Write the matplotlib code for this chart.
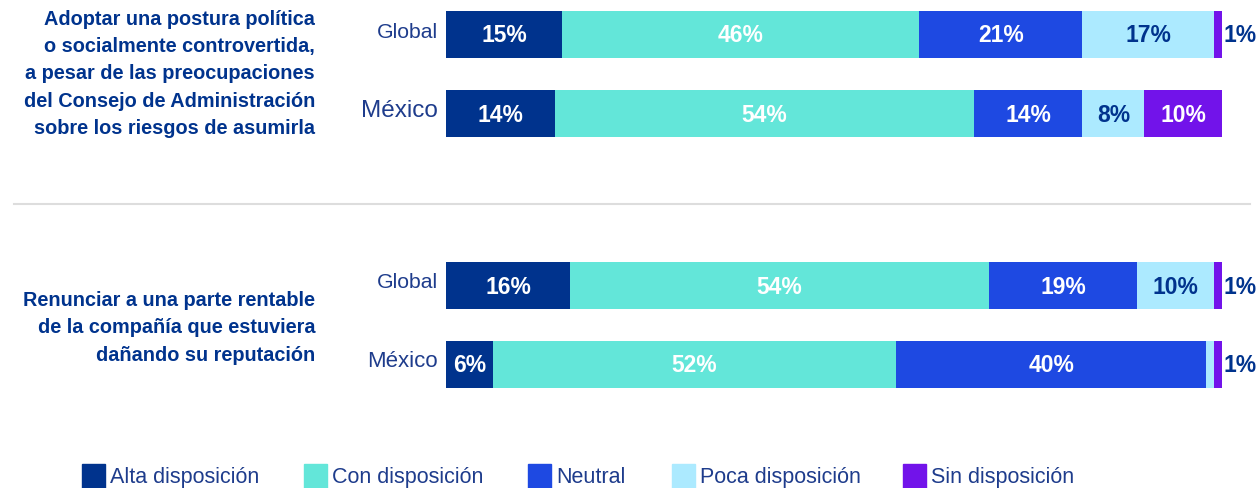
import numpy as np
import matplotlib.pyplot as plt
from matplotlib.patches import Rectangle

plt.rcParams['font.family'] = ['Liberation Sans', 'DejaVu Sans']

W, H = 1256, 489

categories = ['Alta disposición', 'Con disposición', 'Neutral', 'Poca disposición', 'Sin disposición']
colors = ['#00338D', '#63E6D9', '#1E49E2', '#ACEAFF', '#7213EA']
label_colors = ['white', 'white', 'white', '#00338D', 'white']

rows = ['Global', 'México', 'Global', 'México']
groups = ['Adoptar una postura política\no socialmente controvertida,\na pesar de las preocupaciones\ndel Consejo de Administración\nsobre los riesgos de asumirla',
          'Renunciar a una parte rentable\nde la compañía que estuviera\ndañando su reputación']

alta = [15, 14, 16, 6]
con = [46, 54, 54, 52]
neutral = [21, 14, 19, 40]
poca = [17, 8, 10, 1]
sin = [1, 10, 1, 1]
# which segments get a printed label (poca in last row is unlabeled)
show_poca = [True, True, True, False]

data = np.array([alta, con, neutral, poca, sin], dtype=float)

fig = plt.figure(figsize=(W/100, H/100), dpi=100)
ax = fig.add_axes([446/W, 0, (1222-446)/W, 1])
ax.set_xlim(0, 100)
ax.set_ylim(H, 0)
ax.axis('off')

ycent = [35, 114, 286, 365]
bar_h = 47
navy = '#00338D'
rowcol = '#1E3C8C'

left = np.zeros(len(rows))
for k in range(5):
    ax.barh(ycent, data[k], left=left, height=bar_h, color=colors[k], linewidth=0)
    for i in range(len(rows)):
        v = data[k][i]
        if k == 3 and not show_poca[i]:
            continue
        if v <= 2:
            ax.text(100.2, ycent[i] + 1, f'{int(v)}%', ha='left', va='center',
                    fontsize=16.5, fontweight='bold', color=navy)
        else:
            ax.text(left[i] + v/2, ycent[i] + 1, f'{int(v)}%', ha='center', va='center',
                    fontsize=16.5, fontweight='bold', color=label_colors[k])
    left += data[k]

# row labels
row_sizes = [15.3, 17.5, 15.3, 16]
for i, r in enumerate(rows):
    fig.text(438/W, 1 - (ycent[i] - 3)/H, r, ha='right', va='center',
             fontsize=row_sizes[i], color=rowcol)

# group labels
fig.text(315/W, 1 - 74/H, groups[0], ha='right', va='center', fontsize=14.3,
         fontweight='bold', color=navy, linespacing=1.55)
fig.text(315/W, 1 - 328/H, groups[1], ha='right', va='center', fontsize=14.3,
         fontweight='bold', color=navy, linespacing=1.55)

# separator
fig.add_artist(plt.Line2D([14/W, 1250/W], [1 - 205/H, 1 - 205/H], color='#DDDDDD', lw=1.5))

# legend
leg_x = [82, 304, 528, 672, 903]
for k, c in enumerate(categories):
    fig.add_artist(Rectangle((leg_x[k]/W, 1 - 489/H), 23/W, 24/H, color=colors[k],
                             transform=fig.transFigure))
    fig.text((leg_x[k] + 28)/W, 1 - 478/H, c, ha='left', va='center', fontsize=15.5,
             color=rowcol)

fig.savefig('out.png', dpi=100)
